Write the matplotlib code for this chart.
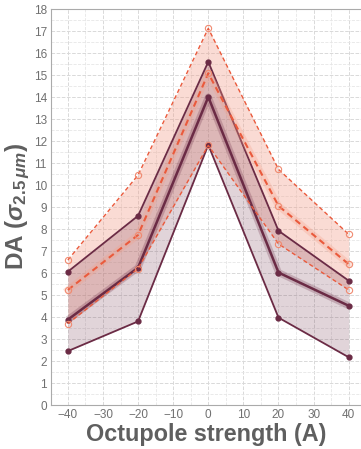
import numpy as np
import matplotlib.pyplot as plt
from matplotlib.ticker import MultipleLocator

# Datos
strength = np.array([-40, -20, 0, 20, 40])

dark_upper = [6.06, 8.6, 15.6, 7.92, 5.65]
dark_mid = [3.88, 6.24, 14.0, 6.02, 4.51]
dark_lower = [2.45, 3.80, 11.82, 3.97, 2.17]

orange_upper = [6.59, 10.45, 17.12, 10.71, 7.76]
orange_mid = [5.23, 7.73, 15.08, 9.05, 6.4]
orange_lower = [3.70, 6.2, 11.8, 7.32, 5.23]

yticks = np.arange(0, 19, 1)
xticks = [-40, -30, -20, -10, 0, 10, 20, 30, 40]

dark = "#6b2b45"
orange = "#ea5a3c"
gray = "#5f5f5f"

plt.rcParams['font.family'] = ['Liberation Sans', 'DejaVu Sans']
plt.rcParams['mathtext.fontset'] = 'custom'
plt.rcParams['mathtext.rm'] = 'Liberation Sans:bold'
plt.rcParams['mathtext.it'] = 'Liberation Sans:bold:italic'
plt.rcParams['mathtext.bf'] = 'Liberation Sans:bold'

fig = plt.figure(figsize=(3.61, 4.49), dpi=100)
ax = fig.add_axes([51/361, 44/449, 310/361, 396/449])

# bandas
ax.fill_between(strength, orange_lower, orange_upper, color="#f29a84", alpha=0.35, lw=0)
ax.fill_between(strength, dark_lower, dark_upper, color=dark, alpha=0.2, lw=0)

# lineas oscuras
ax.plot(strength, dark_mid, color=dark, lw=5, alpha=0.25, solid_capstyle="butt")
for y, w in [(dark_upper, 1.3), (dark_mid, 1.8), (dark_lower, 1.3)]:
    ax.plot(strength, y, color=dark, lw=w, marker="o", ms=3.5)

# lineas naranjas
ax.plot(strength, orange_mid, color="#f4a08a", lw=5, alpha=0.3)
for y, w in [(orange_upper, 1.0), (orange_mid, 1.5), (orange_lower, 1.0)]:
    ax.plot(strength, y, color=orange, lw=w, ls="--", dashes=(3, 2),
            marker="o", ms=4.5, mfc="none", mec="#f08a70", mew=0.8)

ax.set_xlim(-44.8, 43.5)
ax.set_ylim(0, 18)
ax.set_xticks(xticks)
ax.set_yticks(yticks)
ax.xaxis.set_minor_locator(MultipleLocator(5))
ax.yaxis.set_minor_locator(MultipleLocator(0.5))
ax.grid(True, which="major", ls="--", color="#d9d9d9", lw=0.7)
ax.grid(True, which="minor", ls="--", color="#e6e6e6", lw=0.6)
ax.set_axisbelow(True)

ax.tick_params(which="both", length=0, colors="#707070", labelsize=8.5)
ax.tick_params(axis="x", pad=3)
ax.tick_params(axis="y", pad=3)
for s in ["left", "bottom", "top"]:
    ax.spines[s].set_color("#aaaaaa")
ax.spines["right"].set_visible(False)

ax.set_xlabel("Octupole strength (A)", fontsize=16.8, fontweight="bold", color=gray, labelpad=1)
ax.set_ylabel(r"DA ($\sigma_{2.5\,\mu m}$)", fontsize=17.5, fontweight="bold", color=gray, labelpad=1)

fig.savefig("out.png", dpi=100)
